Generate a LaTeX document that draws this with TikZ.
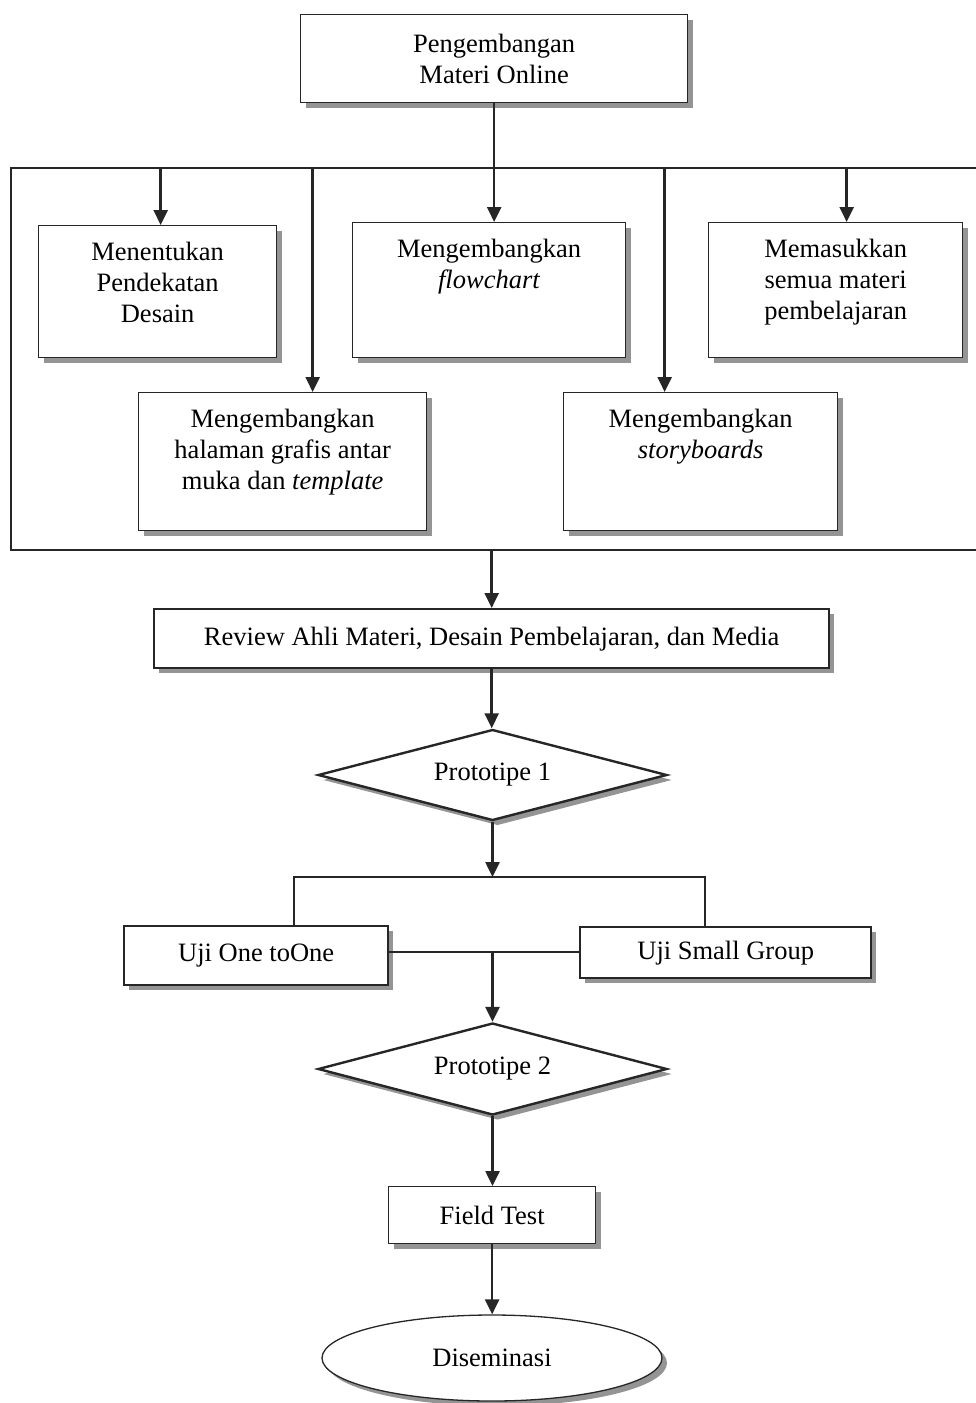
\documentclass[tikz,border=0pt]{standalone}
\usepackage{fontspec}
\setmainfont{Liberation Serif}
\usetikzlibrary{arrows.meta,shapes.geometric,shadows,calc}
\tikzset{
  shad/.style={drop shadow={shadow xshift=5pt,shadow yshift=-5pt,fill=black!42,opacity=1,draw=none}},
  box/.style={draw=black!85, line width=1.3pt, fill=white, shad, inner sep=0pt, anchor=north west},
  thickbox/.style={box, line width=2.4pt},
  txt/.style={align=center, inner sep=0pt, anchor=north},
  dia/.style={diamond, aspect=3.8, draw=black!85, line width=2.4pt, fill=white, shad, inner sep=0pt},
  arr/.style={line width=2.5pt, draw=black!85, -{Triangle[length=15pt,width=14pt]}},
  conn/.style={line width=1.8pt, draw=black!85}
}
\begin{document}
\begin{tikzpicture}[x=1pt,y=-1pt,font=\fontsize{26.5}{31}\selectfont]
\useasboundingbox (0,0) rectangle (976,1403);

% top
\node[box, minimum width=387pt, minimum height=88pt, align=center] (top) at (300,14) {Pengembangan\\Materi Online};

% frame
\node[draw=black!85, line width=2pt, minimum width=970pt, minimum height=382pt, anchor=north west, inner sep=0pt] (frame) at (10,167) {};

% inner boxes
\node[box, minimum width=238pt, minimum height=132pt] (b1) at (38,225) {};
\node[txt] at ([yshift=-17pt]b1.north) {Menentukan\\Pendekatan\\Desain};
\node[box, minimum width=273pt, minimum height=135pt] (b2) at (352,222) {};
\node[txt] at ([yshift=-17pt]b2.north) {Mengembangkan\\\textit{flowchart}};
\node[box, minimum width=254pt, minimum height=135pt] (b3) at (708,222) {};
\node[txt] at ([yshift=-17pt]b3.north) {Memasukkan\\semua materi\\pembelajaran};
\node[box, minimum width=288pt, minimum height=138pt] (b4) at (138,392) {};
\node[txt] at ([yshift=-17pt]b4.north) {Mengembangkan\\halaman grafis antar\\muka dan \textit{template}};
\node[box, minimum width=274pt, minimum height=138pt] (b5) at (563,392) {};
\node[txt] at ([yshift=-17pt]b5.north) {Mengembangkan\\\textit{storyboards}};

% arrows into inner boxes
\draw[arr] (top.south) -- (top.south |- b2.north);
\coordinate (a1) at ([xshift=3pt]b1.north);
\coordinate (a3) at ([xshift=11pt]b3.north);
\coordinate (a4) at ([xshift=30pt]b4.north);
\coordinate (a5) at ([xshift=-36pt]b5.north);
\draw[arr] (a1 |- frame.north) -- (a1);
\draw[arr] (a3 |- frame.north) -- (a3);
\draw[arr] (a4 |- frame.north) -- (a4);
\draw[arr] (a5 |- frame.north) -- (a5);

% review
\node[thickbox, minimum width=675pt, minimum height=59pt] (review) at (153,608) {Review Ahli Materi, Desain Pembelajaran, dan Media};
\draw[arr] (frame.south -| review.north) -- (review.north);

% prototipe 1
\node[dia, minimum width=349pt, minimum height=91pt] (p1) at (492.5,775) {Prototipe 1};
\draw[arr] (review.south) -- (review.south |- p1.north);

% split
\coordinate (split) at (492.5,877);
\draw[arr] (p1.south) -- (split);

\node[thickbox, minimum width=264pt, minimum height=59pt] (u1) at (123,925) {Uji One toOne};
\node[thickbox, minimum width=291pt, minimum height=51pt] (u2) at (579,926) {Uji Small Group};
\draw[conn] ([xshift=38pt]u1.north) |- (split) -| ([xshift=-21pt]u2.north);

\coordinate (merge) at (492.5,952);
\draw[conn] (u1.east |- merge) -- (u2.west |- merge);

% prototipe 2
\node[dia, minimum width=349pt, minimum height=92pt] (p2) at (492.5,1069) {Prototipe 2};
\draw[arr] (merge) -- (p2.north);

% field test
\node[box, minimum width=207pt, minimum height=57pt] (field) at (388,1186) {Field Test};
\draw[arr] (p2.south) -- (p2.south |- field.north);

% diseminasi
\node[ellipse, draw=black!85, line width=1.3pt, fill=white, shad, minimum width=340pt, minimum height=86pt, inner sep=0pt] (dis) at (492,1358) {Diseminasi};
\draw[arr] (field.south) -- (field.south |- dis.north);
\end{tikzpicture}
\end{document}
